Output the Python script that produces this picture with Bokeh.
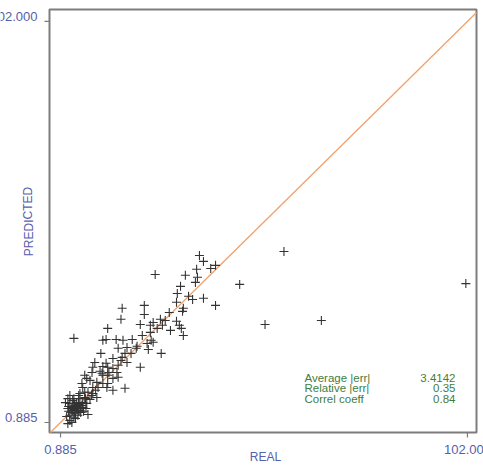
from bokeh.plotting import figure
from bokeh.models import Range1d, Label
from bokeh.embed import file_html
from bokeh.resources import INLINE

# ---- data ----
real = [35.4, 36.4, 39.4, 38.2, 34.7, 24.4, 31.9, 34.9, 34.4, 30.7, 29.9, 32.7, 33.7, 36.4, 29.7,
        21.7, 39.4, 31.4, 31.2, 16.2, 21.7, 27.9, 15.9, 25.7, 26.9, 29.7, 23.9, 20.7, 23.2, 26.2,
        30.4, 24.9, 28.2, 12.6, 30.9, 31.4, 23.2, 21.2, 4.2, 11.4, 12.2, 14.7, 16.4, 18.7, 23.4,
        23.9, 22.4, 17.4, 19.9, 15.2, 19.7, 22.7, 25.9, 10.9, 16.9, 18.4, 16.2, 15.9, 13.9, 17.4,
        9.4, 12.2, 20.7, 15.2, 13.9, 12.6, 11.4, 8.9, 8.7, 10.7, 12.9, 14.9, 6.9, 11.4, 11.2,
        12.6, 13.9, 15.2, 7.4, 8.2, 9.9, 11.4, 12.6, 6.2, 6.4, 8.9, 10.2, 12.4, 16.9, 13.9,
        7.7, 8.9, 5.7, 9.9, 6.9, 3.2, 2.7,
        3.9, 4.9, 5.7, 4.4, 3.7, 5.2, 6.2, 3.2, 3.9, 4.9, 6.4, 5.7, 2.7, 3.7, 4.4, 3.2, 5.2,
        7.7, 6.4, 7.4, 8.2, 3.2, 2.7, 3.7,
        56.4, 45.4, 51.7, 65.7, 101.6,
        4.2, 5.4, 6.9, 4.7, 5.9, 4.2, 7.2, 5.4,
        2.1, 4.2, 5.4, 2.9, 4.6, 5.9, 4.2, 2.9, 5.4, 6.6, 2.4, 4.6, 7.1, 8.6, 9.6]
predicted = [43.0, 41.5, 40.5, 39.7, 39.5, 38.2, 38.0, 37.5, 36.2, 35.2, 33.4, 32.7, 31.9, 32.2, 31.2,
             30.4, 30.4, 29.7, 28.9, 29.7, 28.1, 28.6, 26.9, 26.9, 26.6, 26.4, 26.1, 25.6, 25.4, 25.4,
             25.4, 24.6, 24.1, 24.6, 24.6, 22.8, 23.6, 22.8, 22.1, 21.6, 21.8, 21.8, 21.6, 21.8, 21.6,
             21.1, 20.8, 19.8, 20.1, 19.6, 19.6, 19.3, 18.3, 18.3, 18.3, 18.3, 17.3, 16.5, 17.0, 16.0,
             16.0, 15.8, 14.8, 15.3, 14.5, 14.8, 15.0, 14.8, 13.5, 13.8, 13.5, 13.5, 12.8, 12.8, 13.3,
             12.8, 12.0, 12.3, 12.0, 11.5, 11.0, 10.7, 10.7, 10.7, 9.7, 9.7, 9.7, 9.7, 9.5, 9.0,
             8.5, 8.2, 8.2, 7.2, 7.2, 7.7, 6.9,
             6.4, 5.9, 5.7, 5.2, 4.7, 4.7, 5.2, 5.7, 3.9, 4.4, 5.9, 3.9, 4.4, 3.4, 3.2, 2.7, 2.7,
             2.9, 4.7, 5.7, 6.7, 1.4, 0.6, 0.9,
             44.0, 35.7, 25.6, 26.6, 35.9,
             6.9, 6.9, 8.5, 3.9, 3.4, 2.2, 4.4, 7.7,
             5.9, 5.7, 5.4, 4.9, 4.9, 4.4, 4.2, 3.7, 3.7, 3.7, 2.4, 1.9, 6.9, 7.7, 9.0]

tick_values = [0.885, 102.0]
tick_labels = ["0.885", "102.000"]

stat_names = ["Average |err|", "Relative |err|", "Correl coeff"]
stat_values = ["3.4142", "0.35", "0.84"]

# ---- styling / layout ----
FONT = "Liberation Sans"
BLUE = "#5560ac"
GREEN = "#3f7d3f"
GRAY = "#7c7c7c"

W, H = 483, 468
BOX_L, BOX_R, BOX_T, BOX_B = 49, 476, 9, 432   # plot box in canvas pixels
XLO, XHI = -1.86, 104.25                       # data values at box edges
YLO, YHI = -1.64, 105.0

sx = (XHI - XLO) / (BOX_R - BOX_L)
sy = (YHI - YLO) / (BOX_B - BOX_T)
X0, X1 = XLO - BOX_L * sx, XHI + (W - BOX_R) * sx
Y0, Y1 = YLO - (H - BOX_B) * sy, YHI + BOX_T * sy


def dx(px):
    return X0 + px * sx


def dy(py):
    return Y1 - py * sy


p = figure(width=W, height=H, output_backend="svg", toolbar_location=None,
           x_range=Range1d(X0, X1), y_range=Range1d(Y0, Y1),
           x_axis_location=None, y_axis_location=None,
           min_border=0, min_border_left=0, min_border_right=0,
           min_border_top=0, min_border_bottom=0)
p.background_fill_color = "white"
p.border_fill_color = "white"
p.outline_line_color = None
p.grid.visible = False

# plot box
p.quad(left=[XLO], right=[XHI], bottom=[YLO], top=[YHI],
       fill_color=None, line_color=GRAY, line_width=2)

# tick marks (outward, 5 px)
TICK = 5
p.segment(x0=tick_values, y0=[YLO] * 2, x1=tick_values, y1=[YLO - TICK * sy] * 2,
          line_color=GRAY, line_width=1.2)
p.segment(x0=[XLO] * 2, y0=tick_values, x1=[XLO - TICK * sx] * 2, y1=tick_values,
          line_color=GRAY, line_width=1.2)

# diagonal y = x, limited to the box
d0, d1 = max(XLO, YLO), min(XHI, YHI)
p.line([d0, d1], [d0, d1], line_color="#f4a06a", line_width=1.3)

# points
p.scatter(real, predicted, marker="cross", size=9, line_color="#333333", line_width=1.1)

# tick labels
for v, t in zip(tick_values, tick_labels):
    p.add_layout(Label(x=v, y=dy(449), text=t, text_align="center", text_baseline="middle",
                       text_font=FONT, text_font_size="13px", text_color=BLUE))
    p.add_layout(Label(x=dx(37), y=v + 5 * sy, text=t, text_align="right",
                       text_baseline="middle",
                       text_font=FONT, text_font_size="13px", text_color=BLUE))

# axis titles
p.add_layout(Label(x=dx(265), y=dy(456), text="REAL", text_align="center",
                   text_baseline="middle", text_font=FONT, text_font_size="12px",
                   text_color=BLUE))
p.add_layout(Label(x=dx(28), y=dy(221), text="PREDICTED", angle=1.5708,
                   text_align="center", text_baseline="middle",
                   text_font=FONT, text_font_size="12px", text_color=BLUE))

# statistics
row_py = [377, 387.5, 398]
for name, val, py in zip(stat_names, stat_values, row_py):
    p.add_layout(Label(x=dx(304), y=dy(py), text=name, text_align="left",
                       text_baseline="middle", text_font=FONT, text_font_size="11.5px",
                       text_color=GREEN))
    p.add_layout(Label(x=dx(455), y=dy(py), text=val, text_align="right",
                       text_baseline="middle", text_font=FONT, text_font_size="11.5px",
                       text_color=GREEN))

open("out.html", "w").write(file_html(p, INLINE))
